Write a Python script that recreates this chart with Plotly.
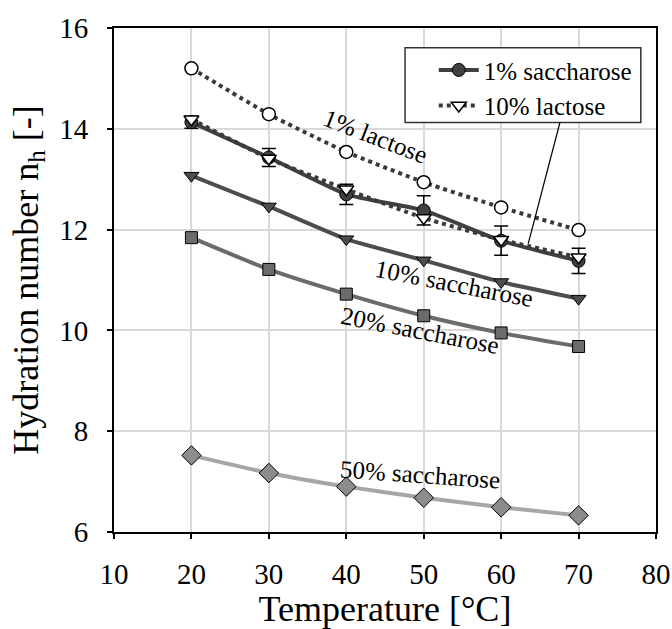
import plotly.graph_objects as go

temperature = [20, 30, 40, 50, 60, 70]
lactose_1 = [15.20, 14.29, 13.54, 12.94, 12.44, 11.99]
saccharose_1 = [14.13, 13.43, 12.70, 12.38, 11.78, 11.38]
saccharose_1_err = [0.12, 0.18, 0.20, 0.29, 0.29, 0.25]
lactose_10 = [14.19, 13.41, 12.80, 12.23, 11.80, 11.45]
saccharose_10 = [13.07, 12.46, 11.81, 11.39, 10.96, 10.63]
saccharose_20 = [11.84, 11.21, 10.72, 10.29, 9.95, 9.68]
saccharose_50 = [7.52, 7.17, 6.90, 6.68, 6.49, 6.33]

FONT = "Liberation Serif"

fig = go.Figure()

# 1% lactose
fig.add_trace(go.Scatter(
    x=temperature, y=lactose_1, mode="lines+markers", name="1% lactose",
    showlegend=False,
    line=dict(color="#3a3a3a", width=4, dash="dot", shape="spline", smoothing=0.5),
    marker=dict(symbol="circle", size=13, color="white", line=dict(color="black", width=1.5)),
))
# 50% saccharose
fig.add_trace(go.Scatter(
    x=temperature, y=saccharose_50, mode="lines+markers", name="50% saccharose",
    showlegend=False,
    line=dict(color="#a6a6a6", width=4, shape="spline", smoothing=0.5),
    marker=dict(symbol="diamond", size=15, color="#8c8c8c", line=dict(color="black", width=1)),
))
# 20% saccharose
fig.add_trace(go.Scatter(
    x=temperature, y=saccharose_20, mode="lines+markers", name="20% saccharose",
    showlegend=False,
    line=dict(color="#6b6b6b", width=4, shape="spline", smoothing=0.5),
    marker=dict(symbol="square", size=12, color="#6b6b6b", line=dict(color="black", width=1)),
))
# 10% saccharose
fig.add_trace(go.Scatter(
    x=temperature, y=saccharose_10, mode="lines+markers", name="10% saccharose",
    showlegend=False,
    line=dict(color="#4d4d4d", width=4, shape="spline", smoothing=0.5),
    marker=dict(symbol="triangle-down", size=13, color="#4d4d4d", line=dict(color="black", width=1)),
))
# 1% saccharose
fig.add_trace(go.Scatter(
    x=temperature, y=saccharose_1, mode="lines+markers", name="1% saccharose",
    line=dict(color="#404040", width=4, shape="spline", smoothing=0.5),
    marker=dict(symbol="circle", size=13, color="#404040", line=dict(color="black", width=1)),
    error_y=dict(type="data", array=saccharose_1_err, visible=True,
                 color="black", thickness=1.5, width=7),
))
# 10% lactose
fig.add_trace(go.Scatter(
    x=temperature, y=lactose_10, mode="lines+markers", name="10% lactose",
    line=dict(color="#3a3a3a", width=4, dash="dot", shape="spline", smoothing=0.5),
    marker=dict(symbol="triangle-down", size=13, color="white", line=dict(color="black", width=1.5)),
))

ann_font = dict(family=FONT, size=25, color="black")
labels = [
    ("1% lactose", 43.8, 13.85, 21),
    ("10% saccharose", 53.9, 10.93, 11),
    ("20% saccharose", 49.5, 10.0, 11),
    ("50% saccharose", 49.5, 7.15, 4),
]
for text, lx, ly, ang in labels:
    fig.add_annotation(x=lx, y=ly, xref="x", yref="y", text=text, showarrow=False,
                       textangle=ang, font=ann_font)

# legend frame
fig.add_shape(type="rect", xref="paper", yref="paper", x0=0.537, x1=0.972, y0=0.8126, y1=0.9606,
              fillcolor="white", line=dict(color="#333333", width=1.5), layer="above")
# leader line from legend to 10% lactose curve
fig.add_shape(type="line", xref="x", yref="y", x0=67.6, y0=14.13, x1=63.5, y1=11.72,
              line=dict(color="black", width=1.2))

fig.update_layout(
    width=672, height=629,
    margin=dict(l=114, r=16, t=25, b=97),
    paper_bgcolor="white", plot_bgcolor="white",
    font=dict(family=FONT, color="black"),
    showlegend=True,
    legend=dict(
        x=0.59, y=0.962, xanchor="left", yanchor="top",
        bgcolor="rgba(0,0,0,0)", borderwidth=0,
        font=dict(family=FONT, size=25, color="black"),
        tracegroupgap=0, itemwidth=40,
    ),
    xaxis=dict(
        range=[10, 80], dtick=10, tick0=10, automargin=False,
        showgrid=True, gridcolor="#d9d9d9", gridwidth=1.5,
        showline=True, linecolor="black", linewidth=2, mirror=True,
        ticks="outside", ticklen=5, tickwidth=1.5, tickcolor="black",
        ticklabelstandoff=10,
        tickfont=dict(family=FONT, size=29, color="black"),
        title=dict(text="Temperature [°C]", font=dict(family=FONT, size=36, color="black"), standoff=12),
        zeroline=False,
    ),
    yaxis=dict(
        range=[6, 16], dtick=2, tick0=6,
        showgrid=True, gridcolor="#d9d9d9", gridwidth=1.5,
        showline=True, linecolor="black", linewidth=2, mirror=True,
        ticks="outside", ticklen=5, tickwidth=1.5, tickcolor="black",
        ticklabelstandoff=13,
        tickfont=dict(family=FONT, size=29, color="black"),
        title=dict(text="Hydration number n<sub>h</sub> [-]", font=dict(family=FONT, size=36, color="black"), standoff=10),
        zeroline=False,
    ),
)

fig.write_html("out.html")
